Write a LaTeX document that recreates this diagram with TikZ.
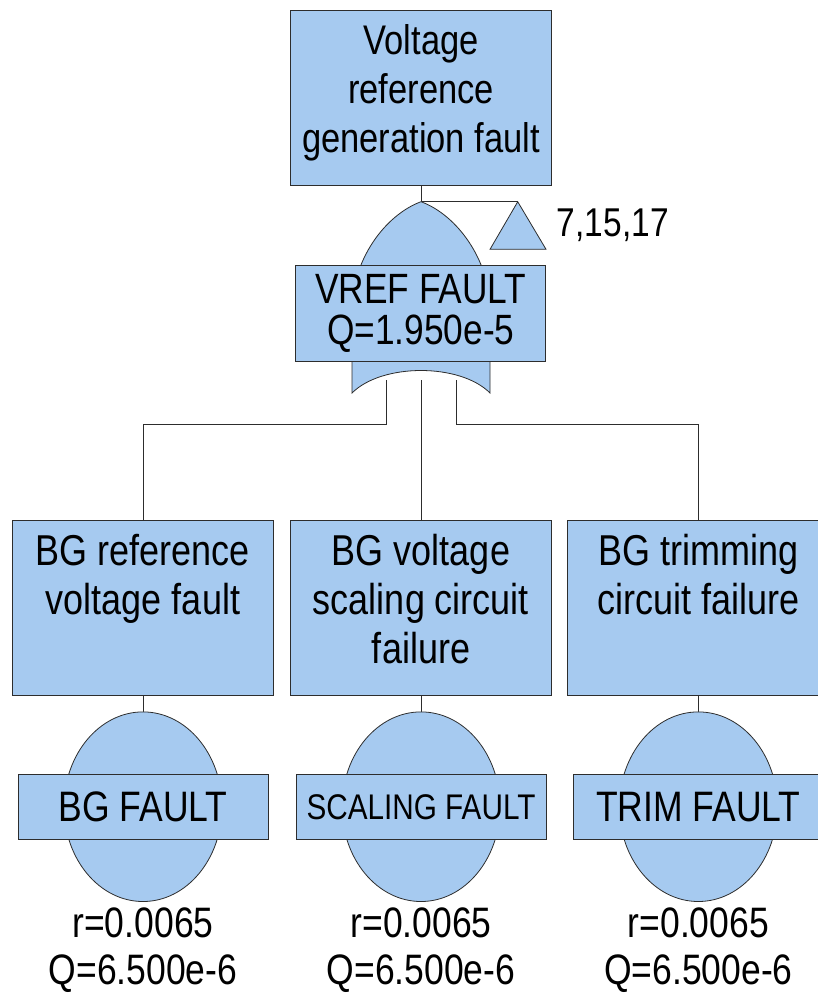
\documentclass[tikz,border=0pt]{standalone}
\usepackage{fontspec}
\setmainfont{Liberation Sans}
\usetikzlibrary{positioning,calc}
\pgfdeclarelayer{back}
\pgfsetlayers{back,main}
\definecolor{ftblue}{RGB}{166,202,240}
\definecolor{ftline}{RGB}{45,45,45}
\newcommand{\boxtext}[1]{\parbox[c][145.8pt][t]{255pt}{\vspace*{12pt}\centering #1}}

\begin{document}
\begin{tikzpicture}[x=1pt, y=-0.8333pt, yscale=1.2, transform shape,
    shape fill/.style={draw=ftline, fill=ftblue, line width=0.8pt},
    bigbox/.style={shape fill, inner sep=0pt, minimum width=261pt,
        minimum height=145.8pt, font=\fontsize{36}{40.8}\selectfont},
    gatebox/.style={shape fill, inner sep=0pt, align=center, minimum width=250pt,
        minimum height=80pt, font=\fontsize{35.3}{34.2}\selectfont},
    evt/.style={shape fill, circle, inner sep=0pt, minimum size=158pt},
    evbox/.style={shape fill, inner sep=0pt, minimum width=250pt,
        minimum height=53.6pt, font=\fontsize{35.5}{40}\selectfont},
    prob/.style={inner sep=0pt, align=center, anchor=north,
        font=\fontsize{35.5}{38.9}\selectfont},
    wire/.style={draw=ftline, line width=0.8pt}]
    \useasboundingbox (0,0) rectangle (817,993);

    % Top event
    \node[bigbox, font=\fontsize{34.5}{40.8}\selectfont] (top) at (421,97.5)
        {\boxtext{Voltage\\reference\\generation fault}};

    % OR gate
    \draw[shape fill] (352,393) -- (352,310) .. controls (352,260) and (385,215) .. (421,201.7)
        .. controls (457,215) and (490,260) .. (490,310) -- (490,393)
        .. controls (460,363) and (382,363) .. (352,393) -- cycle;
    \coordinate (gtop) at (421,201.7);
    \coordinate (gl) at (386,380);
    \coordinate (gc) at (421,380);
    \coordinate (gr) at (456,380);
    \coordinate (bus) at (421,424.3);
    \node[gatebox] (vref) at (420.7,313) {VREF FAULT\\Q=1.950e-5};

    % Transfer
    \coordinate (tri) at (517.7,201.7);
    \draw[shape fill] (tri) -- (546,249.3) -- (490,249.3) -- cycle;
    \node[inner sep=0pt, anchor=base west, font=\fontsize{33.5}{40}\selectfont]
        (refs) at (556.7,236.7) {7,15,17};

    % Intermediate events
    \node[bigbox] (bga) at (143,607.5) {\boxtext{BG reference\\voltage fault}};
    \node[bigbox] (bgb) at (421,607.5) {\boxtext{BG voltage\\scaling circuit\\failure}};
    \node[bigbox] (bgc) at (698.3,607.5) {\boxtext{BG trimming\\circuit failure}};

    % Basic events
    \foreach \n/\x/\t in {a/143/BG FAULT, b/421/{\fontsize{29.7}{34}\selectfont SCALING FAULT},
        c/698.3/TRIM FAULT} {
        \node[evt] (ev\n) at (\x,806.7) {};
        \node[evbox] (lb\n) at (\x,807) {\t};
        \node[prob] (p\n) at (\x,908) {r=0.0065\\Q=6.500e-6};
    }

    % Connectors
    \begin{pgfonlayer}{back}
        \draw[wire] (top.south) -- (gtop) -- (tri);
        \draw[wire] (gl) -- (gl |- bus) -| (bga.north);
        \draw[wire] (gc) -- (bgb.north);
        \draw[wire] (gr) -- (gr |- bus) -| (bgc.north);
        \foreach \n in {a,b,c} {
            \draw[wire] (bg\n.south) -- (ev\n.north);
        }
    \end{pgfonlayer}
\end{tikzpicture}
\end{document}
